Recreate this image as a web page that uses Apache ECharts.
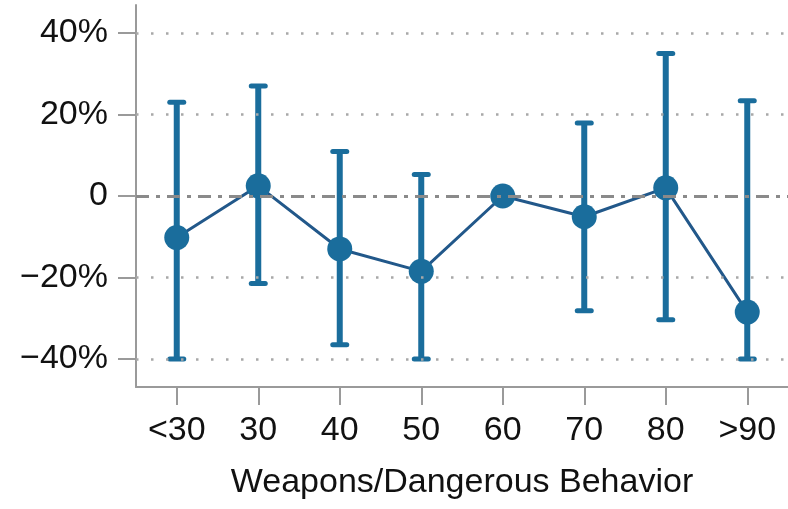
<!DOCTYPE html>
<html>
<head>
<meta charset="utf-8">
<script src="https://cdn.jsdelivr.net/npm/echarts@6/dist/echarts.min.js"></script>
<style>html,body{margin:0;padding:0;background:#fff}#c{width:788px;height:509px}</style>
</head>
<body>
<div id="c"></div>
<script>
const categories = ['<30', '30', '40', '50', '60', '70', '80', '>90'];
const estimates = [-10.2, 2.5, -13, -18.5, 0, -5.1, 2, -28.5];
const ciLower = [-40, -21.5, -36.5, -40, null, -28.2, -30.4, -40];
const ciUpper = [23, 27, 10.9, 5.3, null, 17.9, 35, 23.4];
const yTicks = [-40, -20, 0, 20, 40];
const yMin = -46.9, yMax = 46.9;

const markerColor = '#1a6d9c';
const lineColor = '#22588a';
const axisColor = '#9a9a9a';
const fontFamily = 'Liberation Sans, Arial, Helvetica, sans-serif';

const errData = [];
categories.forEach((c, i) => {
  if (ciLower[i] !== null && ciUpper[i] !== null) errData.push([i, ciLower[i], ciUpper[i]]);
});

function fmt(v) {
  if (v === 0) return '0';
  return (v < 0 ? '\u2212' + Math.abs(v) : v) + '%';
}

const chart = echarts.init(document.getElementById('c'), null, {renderer: 'canvas'});
chart.setOption({
  animation: false,
  backgroundColor: '#fff',
  grid: {left: 136, top: 5, width: 655, height: 382, containLabel: false},
  xAxis: {
    type: 'category',
    data: categories,
    boundaryGap: true,
    name: 'Weapons/Dangerous Behavior',
    nameLocation: 'middle',
    nameGap: 79,
    nameTextStyle: {fontSize: 34, color: '#111', fontFamily: fontFamily},
    axisLine: {show: true, onZero: false, lineStyle: {color: axisColor, width: 2}},
    axisTick: {show: true, alignWithLabel: true, length: 18, lineStyle: {color: axisColor, width: 2}},
    axisLabel: {margin: 27, fontSize: 34, color: '#111', fontFamily: fontFamily},
    splitLine: {show: false}
  },
  yAxis: {
    type: 'value',
    min: yMin,
    max: yMax,
    axisLine: {show: true, onZero: false, lineStyle: {color: axisColor, width: 2}},
    axisTick: {show: true, length: 18, customValues: yTicks, lineStyle: {color: axisColor, width: 2}},
    axisLabel: {customValues: yTicks, margin: 28, fontSize: 34, color: '#111', fontFamily: fontFamily, formatter: fmt},
    splitLine: {show: false}
  },
  series: [
    {
      type: 'line',
      data: [],
      silent: true,
      markLine: {
        silent: true,
        symbol: 'none',
        label: {show: false},
        data: yTicks.filter(v => v !== 0).map(v => ({yAxis: v, lineStyle: {type: [2.5, 12.5], width: 2.5, color: '#a8a8a8'}}))
          .concat([{yAxis: 0, lineStyle: {type: [13, 7, 4, 7], width: 3, color: '#8a8a8a'}}])
      },
      z: 1
    },
    {
      type: 'custom',
      data: errData,
      z: 2,
      renderItem: function (params, api) {
        const x = api.value(0), lo = api.value(1), hi = api.value(2);
        const p1 = api.coord([x, lo]);
        const p2 = api.coord([x, hi]);
        const hw = 7;
        return {
          type: 'group',
          children: [
            {type: 'line', shape: {x1: p1[0], y1: p1[1], x2: p2[0], y2: p2[1]}, style: {stroke: markerColor, lineWidth: 6}},
            {type: 'line', shape: {x1: p1[0] - hw, y1: p1[1], x2: p1[0] + hw, y2: p1[1]}, style: {stroke: markerColor, lineWidth: 5, lineCap: 'round'}},
            {type: 'line', shape: {x1: p2[0] - hw, y1: p2[1], x2: p2[0] + hw, y2: p2[1]}, style: {stroke: markerColor, lineWidth: 5, lineCap: 'round'}}
          ]
        };
      }
    },
    {
      type: 'line',
      data: estimates,
      z: 3,
      symbol: 'circle',
      symbolSize: 25,
      showAllSymbol: true,
      lineStyle: {color: lineColor, width: 3},
      itemStyle: {color: markerColor, borderWidth: 0}
    }
  ]
});
</script>
</body>
</html>
